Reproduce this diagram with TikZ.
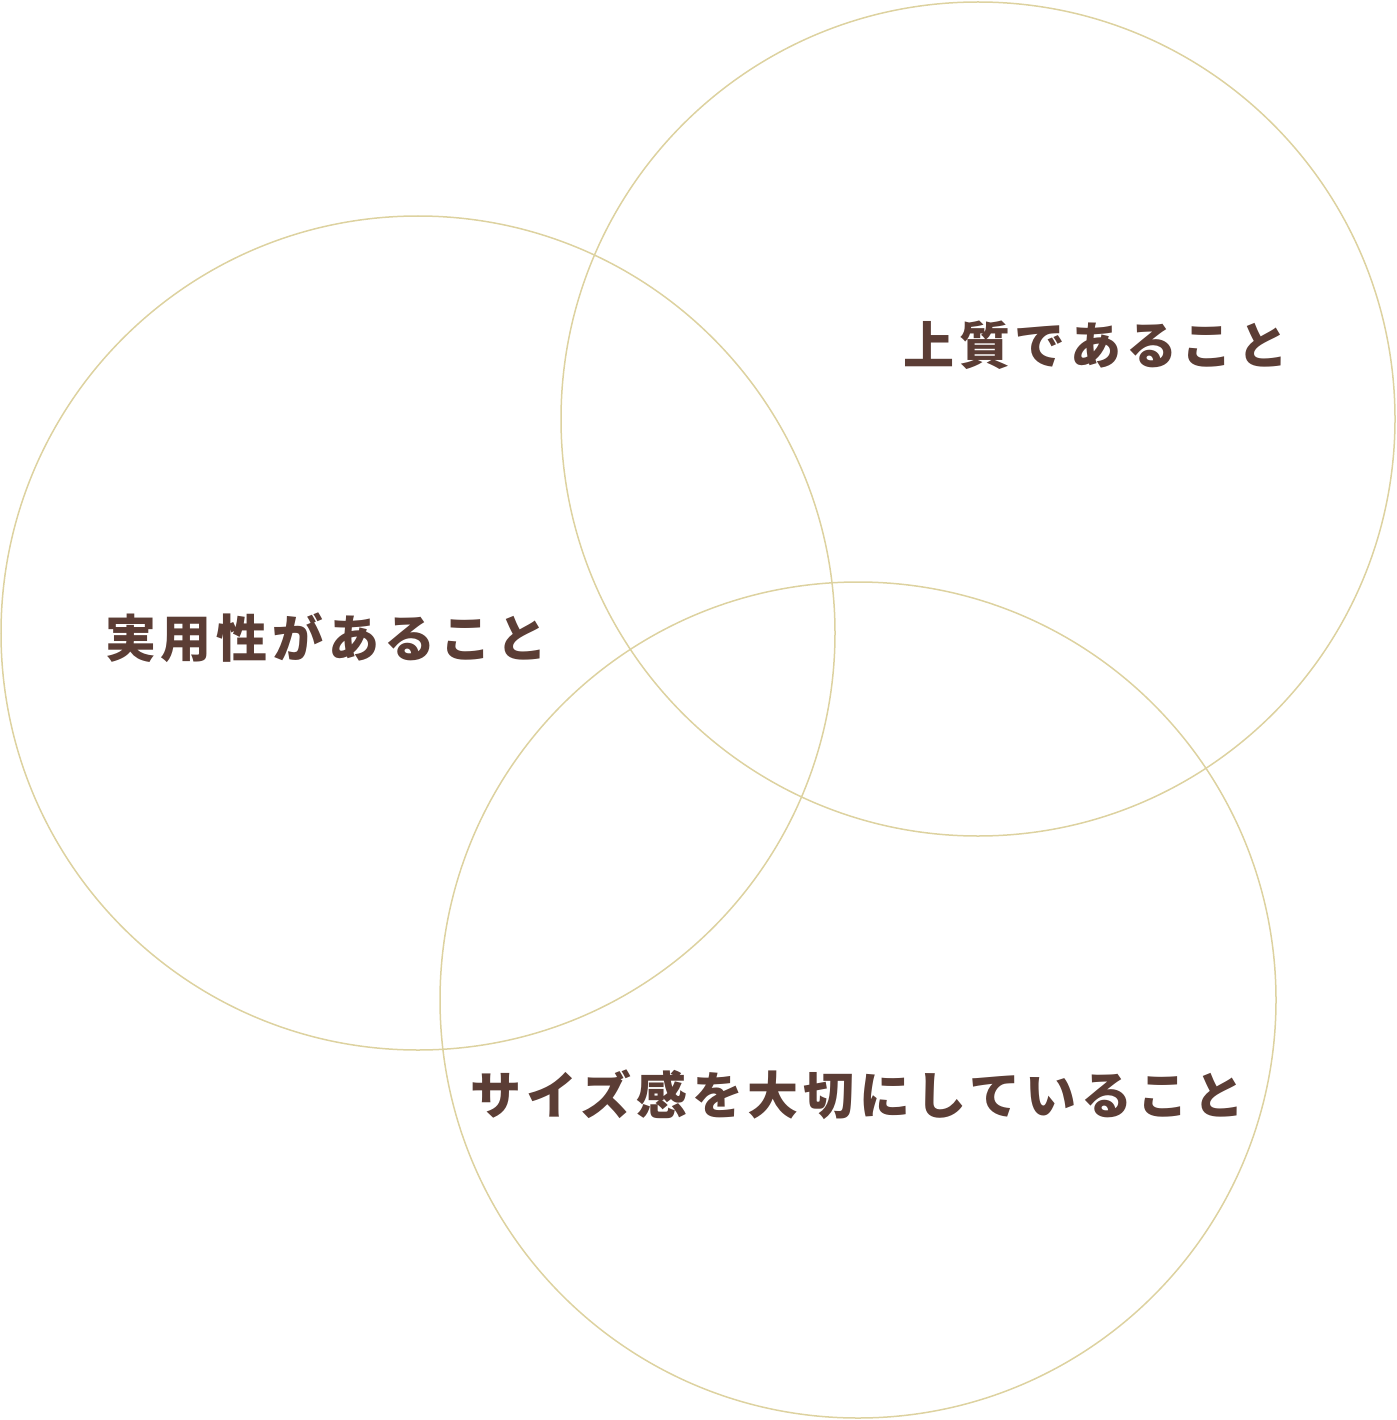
\documentclass[tikz,border=0pt]{standalone}
\usepackage{fontspec}
\newfontfamily\cjk{Noto Sans CJK JP}[LetterSpace=9.5]
\definecolor{ringc}{HTML}{DDD2A0}
\definecolor{textc}{HTML}{5B3D35}
\begin{document}
\begin{tikzpicture}[x=1pt,y=-1pt,
  ring/.style={draw=ringc,line width=1.5pt},
  lbl/.style={anchor=west,inner sep=0pt,text=textc,font=\cjk\bfseries\fontsize{51}{60}\selectfont}]
\useasboundingbox (0,0) rectangle (1396,1420);
\draw[ring] (978,419) circle (417);
\draw[ring] (418,633) circle (417);
\draw[ring] (858,1000) circle (418);
\node[lbl] (a) at (903,345) {上質であること};
\node[lbl] (b) at (105,638) {実用性があること};
\node[lbl] (c) at (470,1095) {サイズ感を大切にしていること};
\end{tikzpicture}
\end{document}
